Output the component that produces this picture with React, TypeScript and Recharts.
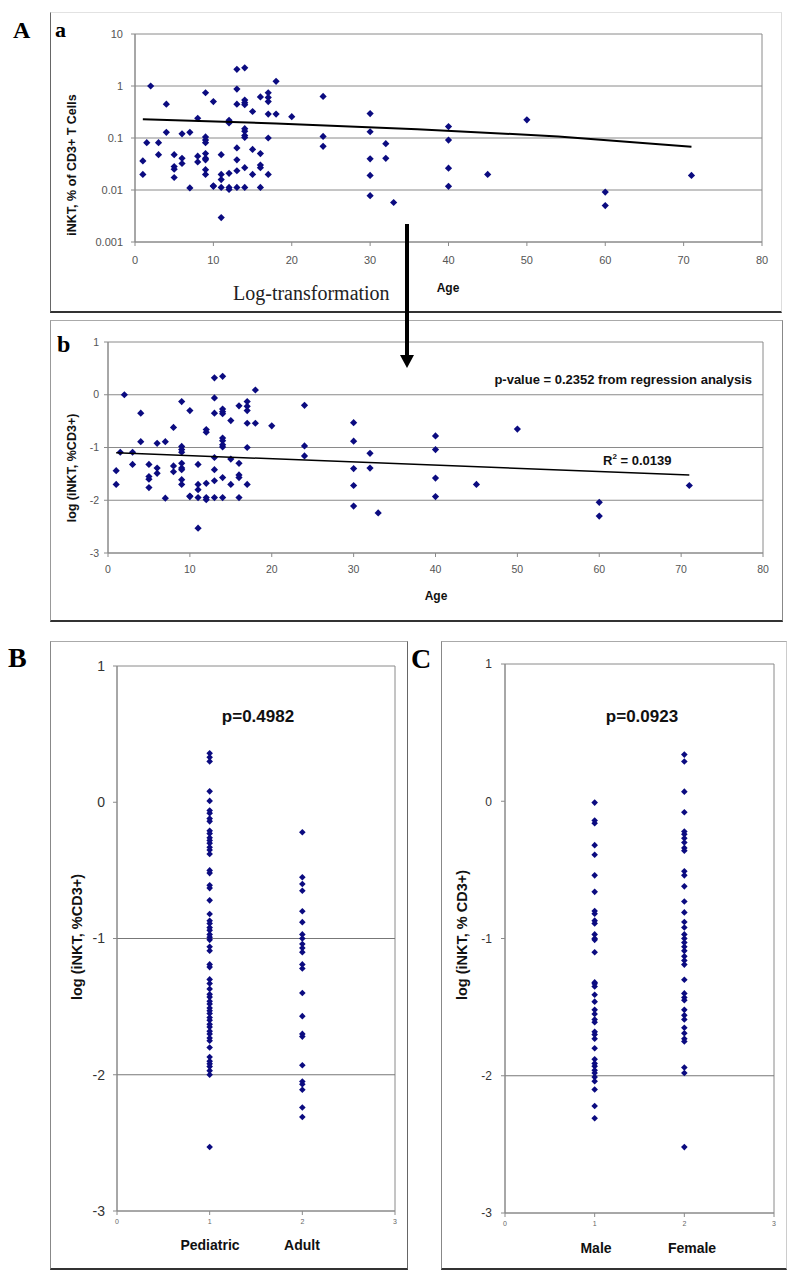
import React from "react";
import {
  ScatterChart,
  Scatter,
  XAxis,
  YAxis,
  ReferenceLine,
  ReferenceArea,
} from "recharts";

// iNKT frequency by age (log10 of % of CD3+ T cells), panels A a / A b
const AGES = [
  2, 1.5, 1, 1, 3, 3, 4, 4, 5, 5, 5, 5, 6, 6, 6, 7, 7, 8, 8, 8,
  9, 9, 9, 9, 9, 9, 9, 9, 9, 10, 10, 10, 11, 11, 11, 11, 11, 12, 12, 12,
  12, 12, 13, 13, 13, 13, 13, 13, 13, 14, 14, 14, 14, 14, 14, 14, 14, 14, 14, 15,
  15, 15, 16, 16, 16, 16, 16, 17, 17, 17, 17, 17, 17, 18, 18, 20, 24, 24, 24, 30,
  30, 30, 30, 30, 32, 32, 33, 40, 40, 40, 40, 45, 50, 60, 60, 71,
];
const LOG_INKT = [
  0.0, -1.09, -1.44, -1.7, -1.09, -1.32, -0.35, -0.89, -1.32, -1.55, -1.6, -1.76, -0.92, -1.39, -1.49, -0.89, -1.96, -0.62, -1.35, -1.46,
  -0.13, -0.98, -1.04, -1.09, -1.3, -1.39, -1.42, -1.61, -1.7, -0.3, -1.92, -1.93, -1.32, -1.7, -1.8, -1.95, -2.53, -0.66, -0.71, -1.68,
  -1.95, -1.99, 0.32, -0.06, -0.35, -1.19, -1.42, -1.63, -1.95, 0.35, -0.27, -0.32, -0.36, -0.82, -0.87, -0.95, -0.99, -1.57, -1.95, -0.49,
  -1.22, -1.7, -0.21, -1.3, -1.52, -1.57, -1.95, -0.13, -0.22, -0.3, -0.54, -1.0, -1.7, 0.09, -0.54, -0.59, -0.2, -0.97, -1.16, -0.53,
  -0.88, -1.4, -1.72, -2.11, -1.11, -1.39, -2.24, -0.78, -1.04, -1.58, -1.93, -1.7, -0.65, -2.04, -2.3, -1.72,
];

// trendlines as drawn in the figure
const TREND_A_AGES = [1, 18, 36, 54, 71];
const TREND_A_LOG = [-0.64, -0.72, -0.83, -0.97, -1.17];
const TREND_B_AGES = [1, 71];
const TREND_B_LOG = [-1.1, -1.52];

const AGE_TICKS = [0, 10, 20, 30, 40, 50, 60, 70, 80];
const LOG_TICKS = [-3, -2, -1, 0, 1];
const PCT_TICK_LABELS = ["0.001", "0.01", "0.1", "1", "10"];
const GROUP_TICKS = [0, 1, 2, 3];

// panel B
const PEDIATRIC = [
  0.36, 0.33, 0.3, 0.08, 0.01, -0.06, -0.08, -0.12, -0.14, -0.21, -0.23, -0.26, -0.28, -0.3, -0.33, -0.35, -0.38,
  -0.5, -0.52, -0.61, -0.63, -0.72, -0.82, -0.87, -0.89, -0.92, -0.94, -0.97, -0.99, -1.01, -1.06, -1.09, -1.19, -1.21,
  -1.3, -1.33, -1.37, -1.41, -1.43, -1.46, -1.48, -1.51, -1.53, -1.55, -1.58, -1.6, -1.63, -1.65, -1.68, -1.7, -1.73, -1.75,
  -1.8, -1.87, -1.9, -1.92, -1.94, -1.97, -2.0, -2.53,
];
const ADULT = [
  -0.22, -0.55, -0.6, -0.65, -0.8, -0.88, -0.97, -1.0, -1.04, -1.07, -1.1, -1.19, -1.22, -1.4, -1.57, -1.7, -1.72,
  -1.93, -2.05, -2.07, -2.11, -2.24, -2.31,
];

// panel C
const MALE = [
  -0.01, -0.14, -0.16, -0.32, -0.39, -0.54, -0.66, -0.8, -0.82, -0.87, -0.89, -0.97, -1.0, -1.01, -1.1, -1.32, -1.33,
  -1.35, -1.41, -1.46, -1.52, -1.55, -1.59, -1.61, -1.68, -1.7, -1.73, -1.8, -1.88, -1.91, -1.93, -1.96, -1.98, -2.01,
  -2.04, -2.1, -2.22, -2.31,
];
const FEMALE = [
  0.34, 0.29, 0.07, -0.08, -0.22, -0.24, -0.27, -0.3, -0.34, -0.36, -0.51, -0.54, -0.62, -0.73, -0.81, -0.88, -0.92,
  -0.97, -1.0, -1.03, -1.06, -1.09, -1.13, -1.16, -1.19, -1.3, -1.4, -1.43, -1.45, -1.52, -1.56, -1.59, -1.65, -1.69,
  -1.73, -1.75, -1.94, -1.98, -2.52,
];

const NAVY = "#0b0b80";
const GRID = "#8a8a8a";
const SANS = "'Liberation Sans', Arial, sans-serif";
const SERIF = "'Liberation Serif', 'Times New Roman', serif";

const points = AGES.map((age, i) => ({ x: age, y: LOG_INKT[i] }));
const trendA = TREND_A_AGES.map((age, i) => ({ x: age, y: TREND_A_LOG[i] }));
const trendB = TREND_B_AGES.map((age, i) => ({ x: age, y: TREND_B_LOG[i] }));
const group = (g: number, vals: number[]) => vals.map((v) => ({ x: g, y: v }));

const diamond = (r: number) => (p: any) => {
  const { cx, cy } = p;
  if (cx == null || cy == null) return <g />;
  return (
    <polygon
      points={`${cx},${cy - r} ${cx + r},${cy} ${cx},${cy + r} ${cx - r},${cy}`}
      fill={NAVY}
    />
  );
};

const noDot = () => <g />;

const abs = (left: number, top: number, width: number, height: number): React.CSSProperties => ({
  position: "absolute",
  left,
  top,
  width,
  height,
  boxSizing: "border-box",
});

function AgePanel({
  left, top, width, height, yWidth, xHeight, mTop, mRight, tickFont, yTickMargin, xTickMargin, log, trend, trendWidth, grid,
}: any) {
  return (
    <div style={abs(left, top, width, height)}>
      <ScatterChart width={width} height={height} margin={{ top: mTop, right: mRight, bottom: 0, left: 0 }}>
        <XAxis
          type="number"
          dataKey="x"
          domain={[0, 80]}
          ticks={AGE_TICKS}
          height={xHeight}
          tick={{ fontSize: tickFont, fill: "#555", fontFamily: SANS }}
          tickSize={4}
          tickMargin={xTickMargin}
          axisLine={{ stroke: GRID }}
          tickLine={{ stroke: GRID }}
        />
        <YAxis
          type="number"
          dataKey="y"
          domain={[-3, 1]}
          ticks={LOG_TICKS}
          width={yWidth}
          tick={{ fontSize: tickFont, fill: "#555", fontFamily: SANS }}
          tickFormatter={log ? (v: number) => PCT_TICK_LABELS[LOG_TICKS.indexOf(v)] : undefined}
          tickSize={4}
          tickMargin={yTickMargin}
          axisLine={{ stroke: GRID }}
          tickLine={{ stroke: GRID }}
        />
        <ReferenceArea x1={0} x2={80} y1={-3} y2={1} fill="none" stroke={GRID} strokeWidth={1} />
        {grid.map((g: number) => (
          <ReferenceLine key={g} y={g} stroke={GRID} strokeWidth={1} />
        ))}
        <Scatter data={points} shape={diamond(3.6)} isAnimationActive={false} />
        <Scatter
          data={trend}
          shape={noDot}
          line={{ stroke: "#000", strokeWidth: trendWidth }}
          isAnimationActive={false}
        />
      </ScatterChart>
    </div>
  );
}

function GroupPanel({
  left, top, width, height, yWidth, xHeight, mTop, mRight, yTickFont, yTickMargin, grid, a, b,
}: any) {
  return (
    <div style={abs(left, top, width, height)}>
      <ScatterChart width={width} height={height} margin={{ top: mTop, right: mRight, bottom: 0, left: 0 }}>
        <XAxis
          type="number"
          dataKey="x"
          domain={[0, 3]}
          ticks={GROUP_TICKS}
          height={xHeight}
          tick={{ fontSize: 7, fill: "#666", fontFamily: SANS }}
          tickSize={4}
          tickMargin={4}
          axisLine={{ stroke: GRID }}
          tickLine={{ stroke: GRID }}
        />
        <YAxis
          type="number"
          dataKey="y"
          domain={[-3, 1]}
          ticks={LOG_TICKS}
          width={yWidth}
          tick={{ fontSize: yTickFont, fill: "#333", fontFamily: SANS }}
          tickSize={4}
          tickMargin={yTickMargin}
          axisLine={{ stroke: GRID }}
          tickLine={{ stroke: GRID }}
        />
        <ReferenceArea x1={0} x2={3} y1={-3} y2={1} fill="none" stroke={GRID} strokeWidth={1} />
        {grid.map((g: number) => (
          <ReferenceLine key={g} y={g} stroke="#777" strokeWidth={1} />
        ))}
        <Scatter data={group(1, a)} shape={diamond(3.3)} isAnimationActive={false} />
        <Scatter data={group(2, b)} shape={diamond(3.3)} isAnimationActive={false} />
      </ScatterChart>
    </div>
  );
}

export default function App() {
  const bold = { fontFamily: SANS, fontWeight: 700, fill: "#111" } as const;
  return (
    <div style={{ position: "relative", width: 800, height: 1283, background: "#fff", overflow: "hidden" }}>
      <style>{"body{margin:0}"}</style>

      {/* panel frames */}
      <div style={{ ...abs(50, 12, 732, 301), borderTop: "1px solid #e2e2e2", borderRight: "1px solid #ddd", borderLeft: "1.5px solid #666", borderBottom: "2px solid #333" }} />
      <div style={{ ...abs(50, 320, 733, 302), borderTop: "1px solid #aaa", borderRight: "1.5px solid #888", borderLeft: "1px solid #999", borderBottom: "2px solid #333" }} />
      <div style={{ ...abs(50, 641, 358, 629), borderTop: "1px solid #aaa", borderRight: "1.5px solid #666", borderLeft: "1px solid #888", borderBottom: "2px solid #333" }} />
      <div style={{ ...abs(441, 641, 346, 629), borderTop: "1px solid #aaa", borderRight: "1px solid #ccc", borderLeft: "1px solid #888", borderBottom: "2px solid #333" }} />

      <AgePanel
        left={50} top={12} width={732} height={301} yWidth={85} xHeight={71} mTop={22} mRight={20}
        tickFont={11} yTickMargin={8} xTickMargin={10} log trend={trendA} trendWidth={2}
        grid={[0, -1, -2]}
      />
      <AgePanel
        left={50} top={320} width={733} height={302} yWidth={58} xHeight={69} mTop={22} mRight={20}
        tickFont={10.5} yTickMargin={5} xTickMargin={9} log={false} trend={trendB} trendWidth={1.5}
        grid={[0, -1, -2]}
      />
      <GroupPanel
        left={50} top={641} width={358} height={629} yWidth={67} xHeight={59} mTop={25} mRight={13}
        yTickFont={14} yTickMargin={8} grid={[-1, -2]} a={PEDIATRIC} b={ADULT}
      />
      <GroupPanel
        left={441} top={641} width={346} height={629} yWidth={64} xHeight={57} mTop={23} mRight={13}
        yTickFont={12} yTickMargin={9} grid={[-2]} a={MALE} b={FEMALE}
      />

      {/* text and arrow overlay */}
      <svg width={800} height={1283} style={{ position: "absolute", left: 0, top: 0, pointerEvents: "none" }}>
        <text x={13} y={38} fontFamily={SERIF} fontWeight={700} fontSize={24}>A</text>
        <text x={55} y={37} fontFamily={SERIF} fontWeight={700} fontSize={22}>a</text>
        <text x={57} y={352} fontFamily={SERIF} fontWeight={700} fontSize={24}>b</text>
        <text x={8} y={667} fontFamily={SERIF} fontWeight={700} fontSize={28}>B</text>
        <text x={411} y={668} fontFamily={SERIF} fontWeight={700} fontSize={28}>C</text>

        <text x={233} y={300} fontFamily={SERIF} fontSize={20} fill="#222">Log-transformation</text>

        <text x={448} y={292} textAnchor="middle" fontSize={12} {...bold}>Age</text>
        <text x={436} y={600} textAnchor="middle" fontSize={12} {...bold}>Age</text>

        <text transform="translate(76,165) rotate(-90)" textAnchor="middle" fontSize={12.5} {...bold}>
          iNKT, % of CD3+ T Cells
        </text>
        <text transform="translate(76,468) rotate(-90)" textAnchor="middle" fontSize={12.5} {...bold}>
          log (iNKT, %CD3+)
        </text>
        <text transform="translate(82,937) rotate(-90)" textAnchor="middle" fontSize={14.5} {...bold}>
          log (iNKT, %CD3+)
        </text>
        <text transform="translate(467,935) rotate(-90)" textAnchor="middle" fontSize={14.5} {...bold}>
          log (iNKT, % CD3+)
        </text>

        <text x={752} y={384} textAnchor="end" fontSize={13} {...bold}>
          p-value = 0.2352 from regression analysis
        </text>
        <text x={603} y={465} fontSize={13} {...bold}>
          R<tspan fontSize={8} dy={-6}>2</tspan>
          <tspan dy={6}> = 0.0139</tspan>
        </text>

        <text x={258} y={722} textAnchor="middle" fontSize={17} {...bold}>p=0.4982</text>
        <text x={642} y={722} textAnchor="middle" fontSize={17} {...bold}>p=0.0923</text>

        <text x={210} y={1250} textAnchor="middle" fontSize={14} {...bold}>Pediatric</text>
        <text x={302} y={1250} textAnchor="middle" fontSize={14} {...bold}>Adult</text>
        <text x={596} y={1253} textAnchor="middle" fontSize={14} {...bold}>Male</text>
        <text x={692} y={1253} textAnchor="middle" fontSize={14} {...bold}>Female</text>

        <line x1={407} y1={224} x2={407} y2={357} stroke="#000" strokeWidth={4} />
        <polygon points="400,355 414,355 407,368" fill="#000" />
      </svg>
    </div>
  );
}
